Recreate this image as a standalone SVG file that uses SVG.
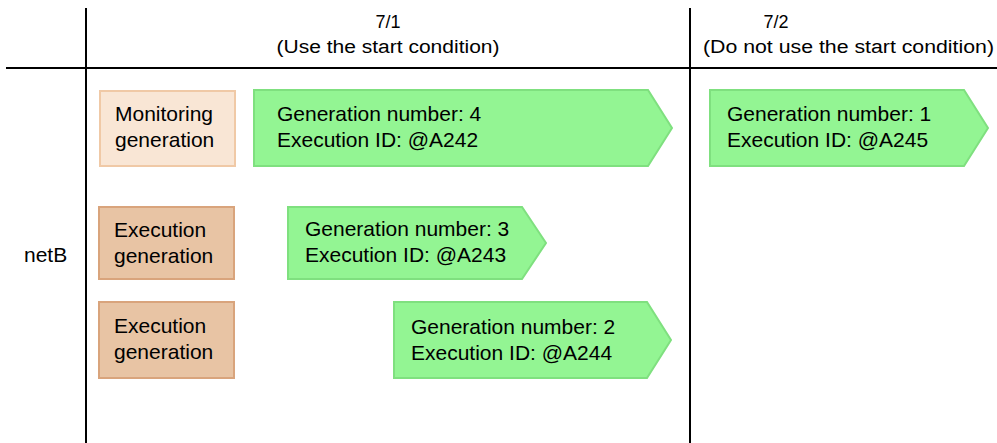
<svg xmlns="http://www.w3.org/2000/svg" width="997" height="443" viewBox="0 0 997 443">
<style>
text{font-family:"Liberation Sans",Arial,sans-serif;fill:#000}
.lbl{font-size:21px}
.hdr{font-size:18px}
.mon{fill:#f9e6d5;stroke:#f0c9a6;stroke-width:2}
.exe{fill:#e8c4a4;stroke:#d9a47c;stroke-width:2}
.gen{fill:#93f593;stroke:#7fe07f;stroke-width:2}
.ln{stroke:#000;stroke-width:2;fill:none}
</style>
<g id="grid">
<line class="ln" x1="86" y1="8" x2="86" y2="443"/>
<line class="ln" x1="690" y1="8" x2="690" y2="443"/>
<line class="ln" x1="6" y1="68" x2="997" y2="68"/>
</g>
<g id="header1">
<text class="hdr" x="388" y="28" text-anchor="middle">7/1</text>
<text class="hdr" x="388" y="53" text-anchor="middle" textLength="223" lengthAdjust="spacingAndGlyphs">(Use the start condition)</text>
</g>
<g id="header2">
<text class="hdr" x="776" y="28" text-anchor="middle">7/2</text>
<text class="hdr" x="848.500" y="53" text-anchor="middle" textLength="291" lengthAdjust="spacingAndGlyphs">(Do not use the start condition)</text>
</g>
<g id="netB"><text class="lbl" x="24" y="262">netB</text></g>
<g id="monitoring">
<rect class="mon" x="100" y="91" width="135" height="75"/>
<text class="lbl" x="115" y="121">Monitoring</text>
<text class="lbl" x="115" y="147">generation</text>
</g>
<g id="execution1">
<rect class="exe" x="99" y="207" width="135" height="72"/>
<text class="lbl" x="114" y="237">Execution</text>
<text class="lbl" x="114" y="263">generation</text>
</g>
<g id="execution2">
<rect class="exe" x="99" y="302" width="135" height="76"/>
<text class="lbl" x="114" y="333">Execution</text>
<text class="lbl" x="114" y="359">generation</text>
</g>
<g id="gen4">
<polygon class="gen" points="254,90 648,90 672,128 648,166 254,166"/>
<text class="lbl" x="277" y="121">Generation number: 4</text>
<text class="lbl" x="277" y="147">Execution ID: @A242</text>
</g>
<g id="gen3">
<polygon class="gen" points="288,207 522,207 546,243 522,279 288,279"/>
<text class="lbl" x="305" y="236">Generation number: 3</text>
<text class="lbl" x="305" y="262">Execution ID: @A243</text>
</g>
<g id="gen2">
<polygon class="gen" points="394,302 647,302 671,340 647,378 394,378"/>
<text class="lbl" x="411" y="334">Generation number: 2</text>
<text class="lbl" x="411" y="360">Execution ID: @A244</text>
</g>
<g id="gen1">
<polygon class="gen" points="710,90 964,90 988,128 964,166 710,166"/>
<text class="lbl" x="727" y="121">Generation number: 1</text>
<text class="lbl" x="727" y="147">Execution ID: @A245</text>
</g>
<g id="connectors"/>
</svg>
